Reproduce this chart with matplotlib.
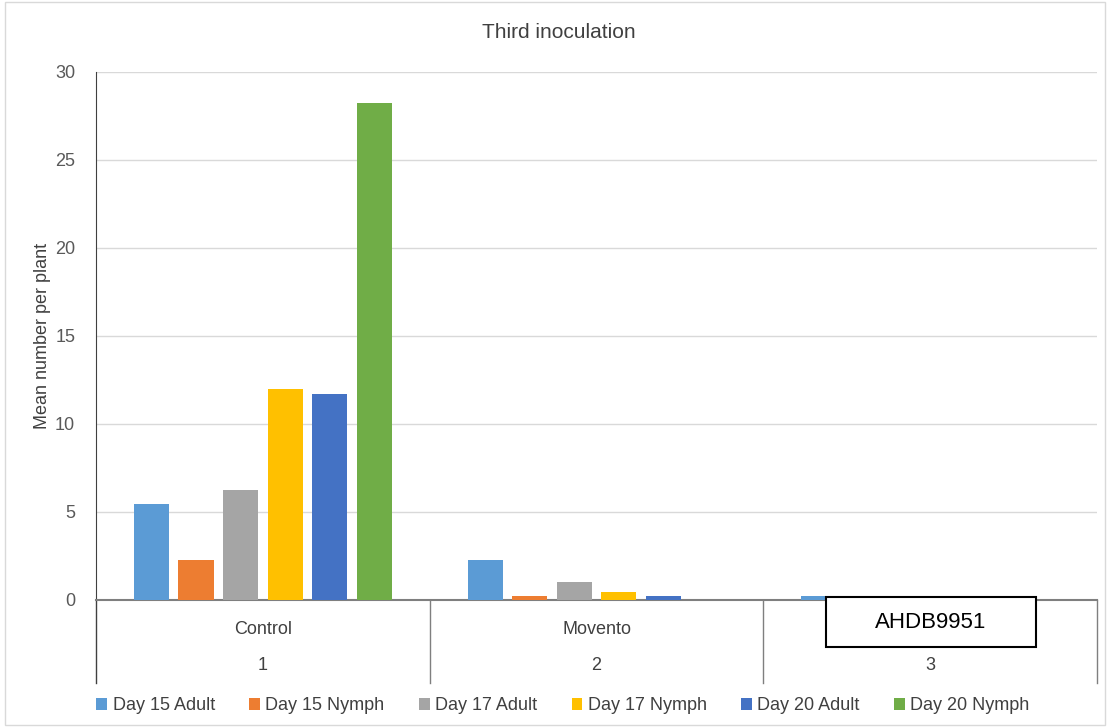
import numpy as np
import matplotlib
matplotlib.use('Agg')
import matplotlib.pyplot as plt
from matplotlib.transforms import blended_transform_factory
from matplotlib.patches import Rectangle

plt.rcParams['font.family'] = ['Liberation Sans', 'DejaVu Sans']

# data
groups = ['Control', 'Movento', '']
group_nums = ['1', '2', '3']
series = ['Day 15 Adult', 'Day 15 Nymph', 'Day 17 Adult', 'Day 17 Nymph', 'Day 20 Adult', 'Day 20 Nymph']
day15_adult = [5.45, 2.25, 0.2]
day15_nymph = [2.25, 0.2, 0.0]
day17_adult = [6.25, 1.0, 0.0]
day17_nymph = [12.0, 0.45, 0.0]
day20_adult = [11.7, 0.2, 0.0]
day20_nymph = [28.25, 0.0, 0.0]
colors = ['#5B9BD5', '#ED7D31', '#A5A5A5', '#FFC000', '#4472C4', '#70AD47']

values = [day15_adult, day15_nymph, day17_adult, day17_nymph, day20_adult, day20_nymph]

fig = plt.figure(figsize=(11.08, 7.27), dpi=100)
ax = fig.add_axes([96 / 1108, 1 - 600 / 727, (1097 - 96) / 1108, (600 - 72) / 727])

x = np.arange(len(group_nums))
slot = 0.1335
width = 0.105
for i, (name, vals, c) in enumerate(zip(series, values, colors)):
    ax.bar(x + (i - 2.5) * slot, vals, width, color=c, label=name, zorder=3)

ax.set_xlim(-0.5, 2.5)
ax.set_ylim(0, 30)
ax.set_yticks(range(0, 31, 5))
ax.tick_params(axis='y', length=0, labelsize=13, labelcolor='#595959', pad=15)
ax.set_xticks([])
ax.grid(axis='y', color='#D9D9D9', linewidth=1, zorder=0)
for s in ['top', 'right']:
    ax.spines[s].set_visible(False)
ax.spines['left'].set_color('#404040')
ax.spines['bottom'].set_color('#7F7F7F')
ax.spines['bottom'].set_linewidth(1.5)
ax.set_ylabel('Mean number per plant', fontsize=13, color='#404040', labelpad=3)
fig.text(559 / 1108, 1 - 33 / 727, 'Third inoculation', ha='center', va='center', fontsize=15, color='#404040')

# multi-level category axis
trans = blended_transform_factory(ax.transData, fig.transFigure)
y_top = 1 - 600 / 727
y_bot = 1 - 683 / 727
for xb in [-0.5, 0.5, 1.5, 2.5]:
    ax.plot([xb, xb], [y_top, y_bot], transform=trans, color='#404040' if xb == -0.5 else '#7F7F7F',
            linewidth=1, clip_on=False)
for xi, g, n in zip(x, groups, group_nums):
    ax.text(xi, 1 - 629 / 727, g, transform=trans, ha='center', va='center', fontsize=13, color='#404040')
    ax.text(xi, 1 - 665 / 727, n, transform=trans, ha='center', va='center', fontsize=13, color='#404040')

# label box over group 3
fig.patches.append(Rectangle((826 / 1108, 1 - 647 / 727), 210 / 1108, 50 / 727,
                             transform=fig.transFigure, facecolor='white', edgecolor='black',
                             linewidth=1.5, zorder=10))
fig.text(931 / 1108, 1 - 622 / 727, 'AHDB9951', ha='center', va='center', fontsize=16, color='black', zorder=11)

# chart border
fig.patches.append(Rectangle((5 / 1108, 2 / 727), 1100 / 1108, 723 / 727, transform=fig.transFigure,
                             facecolor='none', edgecolor='#D9D9D9', linewidth=1))

leg = fig.legend(loc='center', bbox_to_anchor=(563 / 1108, 1 - 706 / 727), ncol=6, frameon=False,
                 fontsize=13, handlelength=0.6, handleheight=0.6, handletextpad=0.3, columnspacing=1.9)
for t in leg.get_texts():
    t.set_color('#404040')

fig.savefig('out.png', dpi=100)
